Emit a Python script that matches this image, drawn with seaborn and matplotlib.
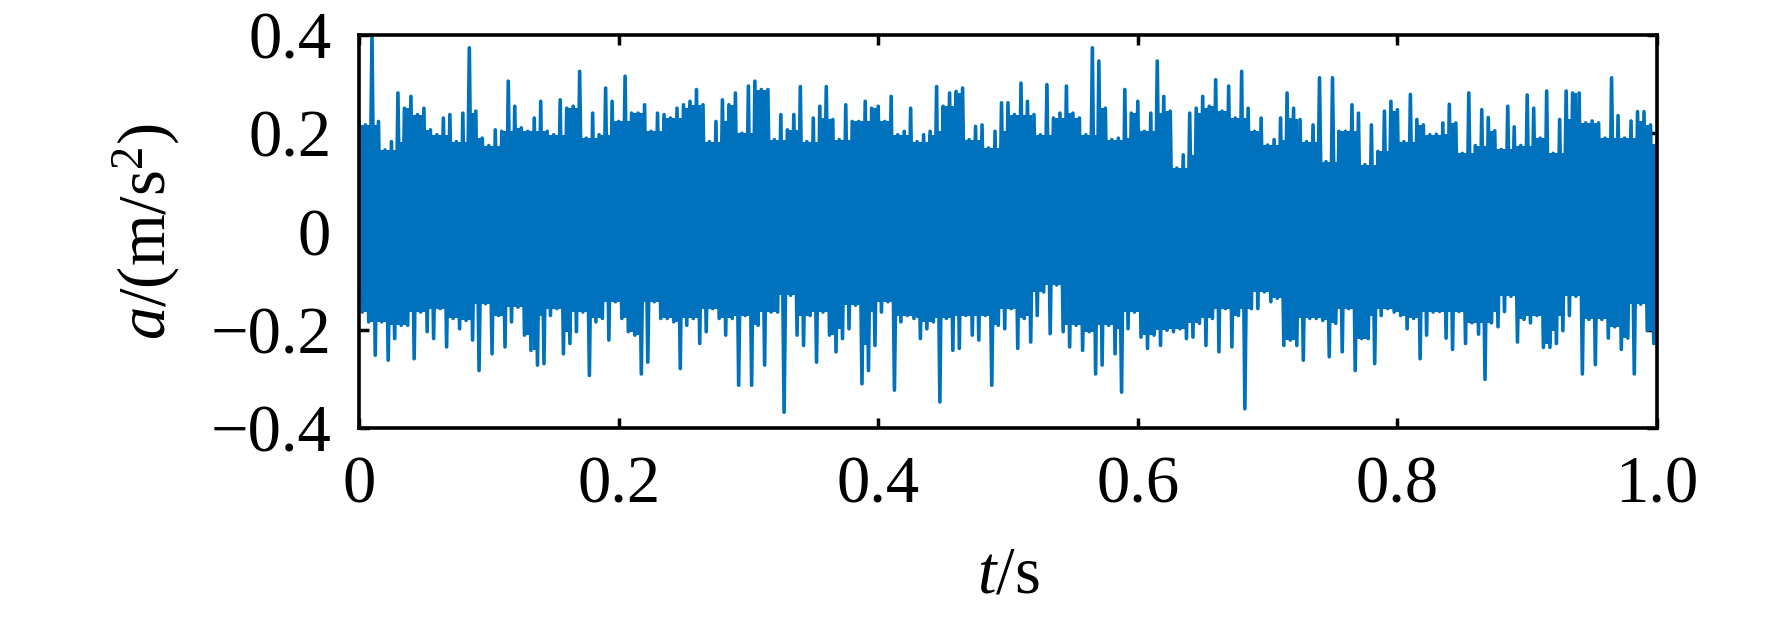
import numpy as np
import pandas as pd
import matplotlib
matplotlib.use("Agg")
import matplotlib.pyplot as plt
import seaborn as sns

# ---- data read from the picture (acceleration signal, sampled every 5 ms) ----
# upper tips of the signal (m/s^2), t = 0, 0.005, ..., 1.0
a_upper = [
    0.224, 0.217, 0.400, 0.224, 0.166, 0.183, 0.282, 0.251, 0.275, 0.238,
    0.251, 0.207, 0.197, 0.231, 0.238, 0.183, 0.241, 0.374, 0.245, 0.190,
    0.175, 0.207, 0.204, 0.306, 0.255, 0.211, 0.204, 0.231, 0.265, 0.204,
    0.197, 0.268, 0.251, 0.255,
    0.326, 0.190, 0.241, 0.197, 0.292, 0.265, 0.224, 0.316, 0.241, 0.241,
    0.258, 0.204, 0.241, 0.238, 0.231, 0.251, 0.258, 0.265, 0.289, 0.258,
    0.183, 0.224, 0.268, 0.258, 0.282, 0.200, 0.296, 0.306, 0.289, 0.289,
    0.187, 0.238, 0.207,
    0.238, 0.295, 0.183, 0.231, 0.255, 0.295, 0.228, 0.187, 0.258, 0.224,
    0.224, 0.265, 0.251, 0.255, 0.224, 0.275, 0.197, 0.204, 0.251, 0.183,
    0.197, 0.204, 0.295, 0.255, 0.282, 0.285, 0.292, 0.187, 0.214, 0.217,
    0.170, 0.204, 0.262,
    0.262, 0.238, 0.302, 0.265, 0.238, 0.197, 0.299, 0.231, 0.241, 0.296,
    0.241, 0.231, 0.197, 0.374, 0.347, 0.251, 0.187, 0.190, 0.289, 0.241,
    0.265, 0.204, 0.241, 0.347, 0.275, 0.245, 0.129, 0.156, 0.241, 0.251,
    0.275, 0.255, 0.309,
    0.245, 0.296, 0.231, 0.326, 0.251, 0.204, 0.231, 0.176, 0.187, 0.231,
    0.282, 0.251, 0.228, 0.183, 0.217, 0.313, 0.142, 0.313, 0.204, 0.204,
    0.258, 0.241, 0.136, 0.217, 0.163, 0.245, 0.265, 0.248, 0.183, 0.279,
    0.228, 0.217, 0.197,
    0.198, 0.221, 0.259, 0.221, 0.159, 0.282, 0.175, 0.248, 0.232, 0.205,
    0.167, 0.255, 0.213, 0.175, 0.278, 0.251, 0.190, 0.286, 0.159, 0.228,
    0.286, 0.282, 0.282, 0.221, 0.225, 0.221, 0.190, 0.313, 0.236, 0.190,
    0.225, 0.244, 0.244, 0.217, 0.179,
]
# lower tips of the signal (m/s^2), same sample times
a_lower = [
    -0.164, -0.184, -0.252, -0.184, -0.262, -0.218, -0.191, -0.191, -0.259, -0.164,
    -0.204, -0.218, -0.157, -0.235, -0.177, -0.198, -0.181, -0.221, -0.283, -0.147,
    -0.249, -0.171, -0.235, -0.184, -0.154, -0.211, -0.242, -0.272, -0.269, -0.171,
    -0.157, -0.249, -0.228, -0.204,
    -0.164, -0.293, -0.184, -0.177, -0.221, -0.143, -0.177, -0.204, -0.211, -0.290,
    -0.266, -0.143, -0.177, -0.177, -0.184, -0.279, -0.191, -0.177, -0.228, -0.204,
    -0.157, -0.177, -0.211, -0.177, -0.313, -0.171, -0.313, -0.191, -0.272, -0.164,
    -0.164, -0.368, -0.130,
    -0.211, -0.232, -0.171, -0.266, -0.164, -0.211, -0.245, -0.218, -0.198, -0.150,
    -0.310, -0.283, -0.232, -0.164, -0.143, -0.323, -0.184, -0.171, -0.177, -0.218,
    -0.198, -0.184, -0.347, -0.177, -0.242, -0.238, -0.171, -0.211, -0.221, -0.171,
    -0.313, -0.191, -0.198,
    -0.157, -0.238, -0.177, -0.225, -0.171, -0.123, -0.208, -0.109, -0.204, -0.235,
    -0.191, -0.242, -0.204, -0.290, -0.272, -0.191, -0.249, -0.327, -0.198, -0.164,
    -0.215, -0.238, -0.211, -0.232, -0.201, -0.204, -0.198, -0.218, -0.215, -0.187,
    -0.232, -0.177, -0.245,
    -0.157, -0.235, -0.171, -0.361, -0.157, -0.157, -0.123, -0.143, -0.136, -0.232,
    -0.221, -0.232, -0.262, -0.177, -0.177, -0.181, -0.255, -0.187, -0.245, -0.157,
    -0.283, -0.218, -0.218, -0.269, -0.171, -0.157, -0.164, -0.171, -0.198, -0.177,
    -0.259, -0.211, -0.164,
    -0.163, -0.217, -0.240, -0.163, -0.228, -0.186, -0.209, -0.301, -0.186, -0.194,
    -0.163, -0.132, -0.225, -0.179, -0.186, -0.171, -0.236, -0.236, -0.228, -0.202,
    -0.171, -0.132, -0.290, -0.179, -0.271, -0.179, -0.217, -0.194, -0.240, -0.217,
    -0.290, -0.148, -0.202, -0.228, -0.232,
]
sample_step = 0.005  # s

x_ticks = [0, 0.2, 0.4, 0.6, 0.8, 1.0]
x_tick_labels = ["0", "0.2", "0.4", "0.6", "0.8", "1.0"]
y_ticks = [-0.4, -0.2, 0, 0.2, 0.4]
y_tick_labels = ["\u22120.4", "\u22120.2", "0", "0.2", "0.4"]
x_label = r"$t/\mathrm{s}$"
y_label = r"$a/(\mathrm{m/s^2})$"
line_color = "#0072BD"

# ---- build signal table: upper tip then lower tip for each sample ----
n = len(a_upper)
t_up = np.arange(n) * sample_step
t_lo = t_up + sample_step / 2
t_all = np.empty(2 * n)
a_all = np.empty(2 * n)
t_all[0::2] = t_up
t_all[1::2] = t_lo
a_all[0::2] = a_upper
a_all[1::2] = a_lower
df = pd.DataFrame({"t": t_all, "a": a_all})

# dense core of the trace: local minimum of the upper tips / maximum of lower tips
core_hi = pd.Series(a_upper).rolling(3, center=True, min_periods=1).min().to_numpy()
core_lo = pd.Series(a_lower).rolling(3, center=True, min_periods=1).max().to_numpy()

# ---- style ----
sns.set_style("ticks")
plt.rcParams["font.family"] = ["Liberation Serif", "DejaVu Serif"]
plt.rcParams["mathtext.fontset"] = "custom"
plt.rcParams["mathtext.rm"] = "Liberation Serif"
plt.rcParams["mathtext.it"] = "Liberation Serif:italic"
plt.rcParams["axes.unicode_minus"] = True

fig = plt.figure(figsize=(17.72, 6.17), dpi=100)
ax = fig.add_axes([359 / 1772, 1 - 428 / 617, 1298 / 1772, 393 / 617])

ax.fill_between(t_up + sample_step / 4, core_lo, core_hi, step="mid",
                color=line_color, linewidth=0, zorder=1.5)
sns.lineplot(data=df, x="t", y="a", sort=False, estimator=None,
             color=line_color, linewidth=2.6, ax=ax)

ax.set_xlim(0, 1.0)
ax.set_ylim(-0.4, 0.4)
ax.set_xticks(x_ticks)
ax.set_xticklabels(x_tick_labels)
ax.set_yticks(y_ticks)
ax.set_yticklabels(y_tick_labels)
ax.tick_params(direction="in", length=7, width=2.5, top=True, right=True,
               labelsize=48, pad=20, color="black", labelcolor="black")
for s in ax.spines.values():
    s.set_visible(True)
    s.set_linewidth(2.6)
    s.set_color("black")
    s.set_zorder(5)

ax.set_xlabel(x_label, fontsize=48, color="black")
ax.set_ylabel(y_label, fontsize=48, color="black")
ax.xaxis.set_label_coords(0.5, -0.30)
ax.yaxis.set_label_coords(-0.136, 0.5)

fig.savefig("out.png", dpi=100, facecolor="white")
